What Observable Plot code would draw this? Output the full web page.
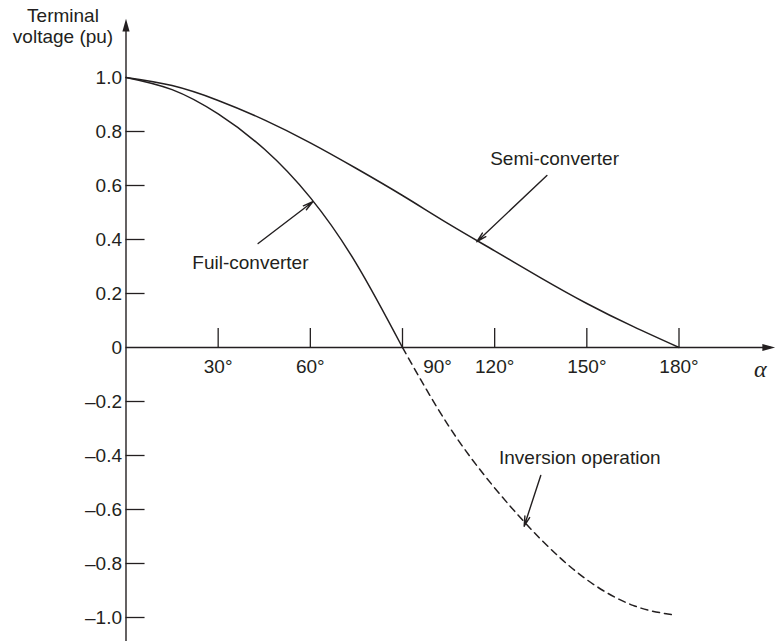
<!DOCTYPE html>
<html><head><meta charset="utf-8">
<script src="https://cdn.jsdelivr.net/npm/d3@7"></script>
<script src="https://cdn.jsdelivr.net/npm/@observablehq/plot@0.6"></script>
<style>
html,body{margin:0;padding:0;background:#fff;}
#chart svg{display:block;}
</style>
</head><body><div id="chart"></div>
<script>
// ---- data ----
const alphaFull = [0, 15, 30, 45, 60, 75, 90];
const vFull     = [1.0, 0.955, 0.865, 0.735, 0.555, 0.31, 0];

const alphaInv  = [90, 105, 120, 135, 150, 165, 178];
const vInv      = [0, -0.29, -0.52, -0.71, -0.86, -0.955, -0.99];

const alphaSemi = [0, 15, 30, 45, 60, 75, 90, 105, 120, 135, 150, 165, 180];
const vSemi     = [1.0, 0.97, 0.915, 0.843, 0.758, 0.663, 0.563, 0.458, 0.358, 0.258, 0.163, 0.078, 0];

const xTicks      = [30, 60, 90, 120, 150, 180];
const xTickLabels = ["30°", "60°", "90°", "120°", "150°", "180°"];
const yTicks      = [1.0, 0.8, 0.6, 0.4, 0.2, 0, -0.2, -0.4, -0.6, -0.8, -1.0];
const yTickLabels = ["1.0", "0.8", "0.6", "0.4", "0.2", "0", "–0.2", "–0.4", "–0.6", "–0.8", "–1.0"];
const tickMarkValues = [0.8, 0.6, 0.4, 0.2, -0.2, -0.4, -0.6, -0.8, -1.0];

const annLabels = ["Fuil-converter", "Semi-converter", "Inversion operation"];

// ---- tables ----
const full = alphaFull.map((a, i) => ({alpha: a, v: vFull[i]}));
const inv  = alphaInv.map((a, i) => ({alpha: a, v: vInv[i]}));
const semi = alphaSemi.map((a, i) => ({alpha: a, v: vSemi[i]}));

const ink = "#231f20";
const font = "'Liberation Sans', Arial, Helvetica, sans-serif";

// annotation anchors (label position, arrow tail -> head)
const annos = [
  {label: annLabels[0], lx: 40.5, ly: 0.315, x1: 43, y1: 0.385, x2: 60.8, y2: 0.54},
  {label: annLabels[1], lx: 139.5, ly: 0.70, x1: 137, y1: 0.637, x2: 114.2, y2: 0.392},
  {label: annLabels[2], lx: 147.7, ly: -0.41, x1: 135, y1: -0.474, x2: 129.6, y2: -0.662}
];

// arrowhead symbols (tip at origin)
const upHead = {draw(ctx, size) { const r = Math.sqrt(size / Math.PI);
  ctx.moveTo(0, 0); ctx.lineTo(r * 0.9, r * 3.2); ctx.lineTo(-r * 0.9, r * 3.2); ctx.closePath(); }};
const rightHead = {draw(ctx, size) { const r = Math.sqrt(size / Math.PI);
  ctx.moveTo(0, 0); ctx.lineTo(-r * 3.2, r * 0.9); ctx.lineTo(-r * 3.2, -r * 0.9); ctx.closePath(); }};

const chart = Plot.plot({
  width: 776,
  height: 641,
  margin: 0,
  style: {fontFamily: font, color: ink, background: "#fff", overflow: "visible"},
  x: {domain: [0, 180], range: [125.5, 678.5], axis: null},
  y: {domain: [-1, 1], range: [617, 77], axis: null},
  marks: [
    // axes
    Plot.ruleY([0], {x1: 0, x2: 210, stroke: ink, strokeWidth: 1.4}),
    Plot.ruleX([0], {y1: -1.1, y2: 1.2, stroke: ink, strokeWidth: 1.4}),
    Plot.dot([0], {x: 0, y: 1.218, symbol: upHead, r: 4, fill: ink, stroke: "none"}),
    Plot.dot([0], {x: 211.3, y: 0, symbol: rightHead, r: 4, fill: ink, stroke: "none"}),
    // ticks
    Plot.ruleX(xTicks, {x: d => d, y1: 0, y2: 0.07, stroke: ink, strokeWidth: 1.3}),
    Plot.ruleY(tickMarkValues, {y: d => d, x1: 0, x2: 6.2, stroke: ink, strokeWidth: 1.3}),
    // tick labels
    Plot.text(yTicks, {x: 0, y: d => d, text: (d, i) => yTickLabels[i], textAnchor: "end", dx: -4, fontSize: 19, fill: ink}),
    Plot.text(xTicks.filter(d => d !== 90), {x: d => d, y: 0, text: d => xTickLabels[xTicks.indexOf(d)], dy: 19, fontSize: 19, fill: ink}),
    Plot.text(xTicks.filter(d => d === 90), {x: d => d, y: 0, text: d => xTickLabels[xTicks.indexOf(d)], dx: 35, dy: 19, fontSize: 19, fill: ink}),
    // axis titles
    Plot.text(["Terminal\nvoltage (pu)"], {x: -20.5, y: 1.19, text: d => d, fontSize: 19, lineHeight: 1.1, fill: ink}),
    Plot.text(["α"], {x: 206.5, y: 0, text: d => d, dy: 22, fontSize: 24, fontStyle: "italic", fontFamily: "'Liberation Serif', 'DejaVu Serif', serif", fill: ink}),
    // curves
    Plot.line(semi, {x: "alpha", y: "v", curve: "natural", stroke: ink, strokeWidth: 1.5}),
    Plot.line(full, {x: "alpha", y: "v", curve: "natural", stroke: ink, strokeWidth: 1.5}),
    Plot.line(inv, {x: "alpha", y: "v", curve: "natural", stroke: ink, strokeWidth: 1.5, strokeDasharray: "7,5"}),
    // annotations
    Plot.arrow(annos, {x1: "x1", y1: "y1", x2: "x2", y2: "y2", stroke: ink, strokeWidth: 1.4, headLength: 11, headAngle: 28}),
    Plot.text(annos, {x: "lx", y: "ly", text: "label", fontSize: 19, fill: ink})
  ]
});
document.getElementById("chart").appendChild(chart);
</script>
</body></html>
